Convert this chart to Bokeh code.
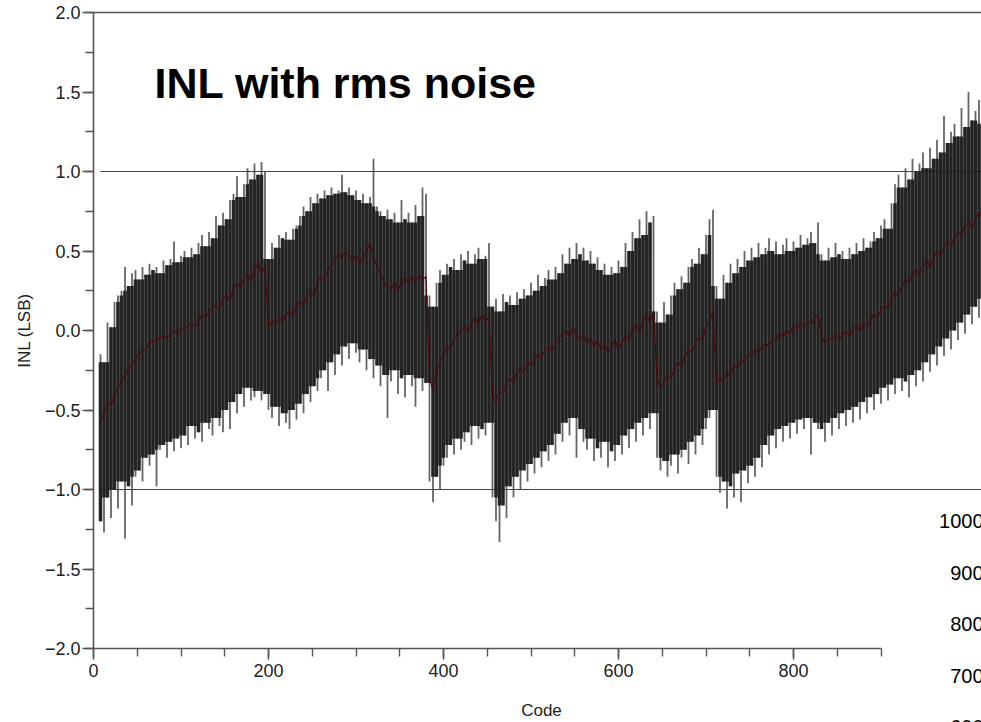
from bokeh.plotting import figure
from bokeh.models import Range1d, FixedTicker, Label, ColumnDataSource
from bokeh.embed import file_html
from bokeh.resources import INLINE

# ---------------- data (one bar every 4 codes) -------------
code_start = 8
code_step = 4

inl_mean = [
    # codes 8..196
    -0.58, -0.52, -0.45, -0.47, -0.40, -0.36, -0.31, -0.28, -0.24, -0.22, -0.18, -0.15,
    -0.12, -0.12, -0.08, -0.06, -0.07, -0.04, -0.03, -0.05, -0.02, 0.00, -0.02, 0.01,
    0.00, 0.03, 0.05, 0.02, 0.06, 0.10, 0.08, 0.12, 0.14, 0.16, 0.13, 0.20,
    0.22, 0.19, 0.26, 0.30, 0.27, 0.33, 0.36, 0.31, 0.38, 0.42, 0.36, 0.40,
    # codes 200..380
    0.02, 0.06, 0.04, 0.08, 0.05, 0.10, 0.12, 0.09, 0.15, 0.18, 0.16, 0.22,
    0.25, 0.22, 0.30, 0.34, 0.32, 0.38, 0.42, 0.45, 0.48, 0.46, 0.50, 0.47,
    0.44, 0.48, 0.42, 0.45, 0.50, 0.55, 0.46, 0.40, 0.36, 0.30, 0.28, 0.26,
    0.30, 0.25, 0.30, 0.33, 0.30, 0.34, 0.31, 0.35, 0.32, 0.34,
    # codes 384..452
    -0.30, -0.38, -0.25, -0.20, -0.15, -0.10, -0.12, -0.05, -0.02, 0.00, 0.03, -0.01,
    0.05, 0.08, 0.04, 0.10, 0.06, 0.08,
    # codes 456..640
    -0.42, -0.45, -0.38, -0.40, -0.33, -0.30, -0.32, -0.26, -0.24, -0.27, -0.20, -0.22,
    -0.18, -0.15, -0.17, -0.12, -0.10, -0.13, -0.08, -0.05, -0.02, 0.00, -0.04, 0.02,
    -0.03, -0.06, -0.02, -0.08, -0.05, -0.10, -0.06, -0.12, -0.08, -0.14, -0.10, -0.06,
    -0.12, -0.08, -0.03, -0.06, 0.00, 0.04, -0.02, 0.06, 0.10, 0.05, 0.12,
    # codes 644..708
    -0.30, -0.36, -0.32, -0.28, -0.30, -0.24, -0.20, -0.22, -0.16, -0.12, -0.14, -0.08,
    -0.04, -0.06, 0.02, 0.06, 0.12,
    # codes 712..828
    -0.34, -0.30, -0.32, -0.26, -0.28, -0.22, -0.24, -0.18, -0.20, -0.15, -0.16, -0.12,
    -0.14, -0.10, -0.08, -0.10, -0.05, -0.06, -0.02, -0.04, 0.00, -0.02, 0.03, 0.01,
    0.05, 0.02, 0.06, 0.04, 0.08, 0.10,
    # codes 832..1020
    -0.04, -0.08, -0.05, -0.06, -0.02, -0.06, -0.03, 0.00, -0.04, 0.01, 0.03, 0.00,
    0.05, 0.02, 0.07, 0.10, 0.08, 0.13, 0.16, 0.14, 0.20, 0.24, 0.22, 0.28,
    0.32, 0.30, 0.35, 0.38, 0.36, 0.40, 0.44, 0.40, 0.46, 0.50, 0.47, 0.52,
    0.56, 0.53, 0.58, 0.62, 0.60, 0.66, 0.68, 0.64, 0.70, 0.74, 0.72, 0.76,
]

inl_high = [
    # codes 8..196
    -0.15, -0.20, 0.05, 0.02, 0.18, 0.22, 0.25, 0.40, 0.28, 0.36, 0.38, 0.32,
    0.40, 0.35, 0.42, 0.38, 0.40, 0.36, 0.44, 0.41, 0.45, 0.56, 0.43, 0.47,
    0.50, 0.46, 0.52, 0.48, 0.55, 0.60, 0.53, 0.62, 0.58, 0.72, 0.66, 0.74,
    0.70, 0.82, 0.86, 0.97, 0.84, 0.92, 1.02, 0.95, 1.05, 0.98, 1.06, 1.00,
    # codes 200..380
    0.45, 0.55, 0.52, 0.60, 0.58, 0.62, 0.57, 0.64, 0.66, 0.72, 0.78, 0.75,
    0.84, 0.80, 0.86, 0.83, 0.88, 0.85, 0.90, 0.86, 0.88, 0.98, 0.87, 0.90,
    0.85, 0.88, 0.82, 0.86, 0.80, 0.84, 1.08, 0.78, 0.75, 0.72, 0.76, 0.70,
    0.74, 0.68, 0.82, 0.70, 0.74, 0.68, 0.79, 0.72, 0.90, 0.86,
    # codes 384..452
    0.22, 0.15, 0.30, 0.38, 0.35, 0.42, 0.40, 0.45, 0.38, 0.48, 0.44, 0.50,
    0.42, 0.48, 0.52, 0.45, 0.47, 0.55,
    # codes 456..640
    0.15, 0.20, 0.12, 0.23, 0.18, 0.22, 0.16, 0.24, 0.20, 0.26, 0.22, 0.30,
    0.25, 0.35, 0.28, 0.33, 0.38, 0.32, 0.40, 0.36, 0.48, 0.42, 0.52, 0.45,
    0.55, 0.48, 0.52, 0.44, 0.50, 0.42, 0.46, 0.38, 0.42, 0.35, 0.40, 0.36,
    0.44, 0.40, 0.55, 0.50, 0.62, 0.58, 0.70, 0.60, 0.75, 0.68, 0.72,
    # codes 644..708
    0.12, 0.05, 0.18, 0.10, 0.22, 0.30, 0.26, 0.34, 0.30, 0.40, 0.45, 0.42,
    0.52, 0.48, 0.60, 0.70, 0.76,
    # codes 712..828
    0.28, 0.20, 0.35, 0.30, 0.42, 0.36, 0.45, 0.40, 0.50, 0.44, 0.52, 0.46,
    0.55, 0.48, 0.52, 0.58, 0.50, 0.56, 0.48, 0.54, 0.58, 0.50, 0.56, 0.52,
    0.60, 0.54, 0.58, 0.62, 0.55, 0.68,
    # codes 832..1020
    0.48, 0.44, 0.52, 0.46, 0.55, 0.48, 0.50, 0.45, 0.52, 0.48, 0.55, 0.50,
    0.58, 0.52, 0.56, 0.62, 0.58, 0.66, 0.70, 0.64, 0.80, 0.92, 0.98, 0.90,
    1.02, 0.95, 1.08, 1.00, 1.05, 1.12, 1.02, 1.15, 1.08, 1.20, 1.12, 1.35,
    1.18, 1.25, 1.30, 1.22, 1.40, 1.28, 1.50, 1.32, 1.38, 1.45, 1.30, 1.42,
]

inl_low = [
    # codes 8..196
    -1.20, -1.27, -1.05, -1.18, -1.00, -1.12, -0.95, -1.31, -0.98, -1.10, -0.92, -0.88,
    -0.95, -0.80, -0.85, -0.78, -0.98, -0.75, -0.72, -0.80, -0.70, -0.76, -0.68, -0.74,
    -0.66, -0.72, -0.60, -0.68, -0.64, -0.70, -0.58, -0.62, -0.66, -0.55, -0.60, -0.64,
    -0.50, -0.62, -0.45, -0.52, -0.40, -0.48, -0.36, -0.44, -0.42, -0.38, -0.44, -0.40,
    # codes 200..380
    -0.50, -0.55, -0.48, -0.60, -0.52, -0.58, -0.62, -0.50, -0.56, -0.46, -0.52, -0.40,
    -0.45, -0.35, -0.38, -0.30, -0.25, -0.38, -0.20, -0.28, -0.15, -0.22, -0.10, -0.18,
    -0.08, -0.14, -0.20, -0.12, -0.25, -0.18, -0.30, -0.22, -0.35, -0.28, -0.55, -0.32,
    -0.25, -0.40, -0.30, -0.42, -0.28, -0.35, -0.48, -0.30, -0.38, -0.33,
    # codes 384..452
    -0.95, -1.08, -0.92, -1.00, -0.85, -0.80, -0.72, -0.78, -0.68, -0.75, -0.70, -0.64,
    -0.72, -0.60, -0.68, -0.62, -0.66, -0.58,
    # codes 456..640
    -1.05, -1.20, -1.33, -1.10, -1.18, -0.98, -1.05, -0.92, -1.00, -0.88, -0.95, -0.84,
    -0.90, -0.80, -0.86, -0.76, -0.82, -0.72, -0.78, -0.65, -0.70, -0.58, -0.66, -0.55,
    -0.80, -0.62, -0.70, -0.75, -0.68, -0.82, -0.74, -0.80, -0.70, -0.86, -0.76, -0.82,
    -0.72, -0.78, -0.66, -0.74, -0.62, -0.70, -0.58, -0.66, -0.55, -0.62, -0.52,
    # codes 644..708
    -0.80, -0.88, -0.82, -0.92, -0.85, -0.78, -0.90, -0.80, -0.75, -0.84, -0.70, -0.78,
    -0.66, -0.72, -0.62, -0.55, -0.50,
    # codes 712..828
    -0.92, -1.02, -0.95, -1.12, -0.98, -1.05, -0.90, -1.08, -0.88, -0.96, -0.85, -0.92,
    -0.80, -0.86, -0.72, -0.78, -0.66, -0.74, -0.62, -0.70, -0.60, -0.68, -0.58, -0.65,
    -0.56, -0.62, -0.55, -0.78, -0.58, -0.62,
    # codes 832..1020
    -0.62, -0.70, -0.58, -0.66, -0.55, -0.62, -0.52, -0.60, -0.50, -0.58, -0.48, -0.56,
    -0.45, -0.52, -0.42, -0.50, -0.40, -0.46, -0.36, -0.44, -0.34, -0.40, -0.30, -0.38,
    -0.32, -0.42, -0.28, -0.35, -0.25, -0.32, -0.20, -0.26, -0.15, -0.22, -0.10, -0.16,
    -0.05, -0.12, 0.00, -0.06, 0.05, -0.02, 0.10, 0.04, 0.15, 0.08, 0.20, 0.12,
]

x_major_ticks = [0, 200, 400, 600, 800]
y_major_ticks = [-2.0, -1.5, -1.0, -0.5, 0.0, 0.5, 1.0, 1.5, 2.0]
y_tick_text = ["\u22122.0", "\u22121.5", "\u22121.0", "\u22120.5", "0.0", "0.5", "1.0", "1.5", "2.0"]
limit_lines = [-1.0, 1.0]
top_line = [2.0]
side_labels = ["1000", "900", "800", "700", "600"]

title_text = "INL with rms noise"
x_title = "Code"
y_title = "INL (LSB)"

# ---------------- figure -------------
n = min(len(inl_mean), len(inl_high), len(inl_low))
codes = [code_start + code_step * i for i in range(n)]
# inner body of the noise band: the part shared with both neighbours
body_hi = [min(inl_high[max(i - 1, 0)], inl_high[i], inl_high[min(i + 1, n - 1)]) for i in range(n)]
body_lo = [max(inl_low[max(i - 1, 0)], inl_low[i], inl_low[min(i + 1, n - 1)]) for i in range(n)]
src = ColumnDataSource(dict(code=codes, mean=inl_mean[:n], hi=inl_high[:n], lo=inl_low[:n],
                            bhi=body_hi, blo=body_lo))

W, H = 981, 722
AXIS_X_PX, AXIS_Y_PX = 93, 648   # pixel column of code 0, pixel row of INL = -2.0
TOP_PX = 12                      # pixel row of INL = +2.0
px_per_code = 0.875
px_per_lsb = (AXIS_Y_PX - TOP_PX) / 4.0

x_rng = Range1d(-AXIS_X_PX / px_per_code, (W - AXIS_X_PX) / px_per_code)
y_rng = Range1d(-2.0 - (H - AXIS_Y_PX) / px_per_lsb, 2.0 + TOP_PX / px_per_lsb)

p = figure(width=W, height=H, output_backend="svg", toolbar_location=None,
           x_range=x_rng, y_range=y_rng,
           min_border_left=0, min_border_right=0, min_border_top=0, min_border_bottom=0)
p.outline_line_color = None
p.background_fill_color = "white"
p.border_fill_color = "white"
p.xgrid.visible = False
p.ygrid.visible = False

font = "Liberation Sans"
xa = p.xaxis[0]
xa.ticker = FixedTicker(ticks=x_major_ticks, minor_ticks=list(range(0, 901, 50)))
xa.bounds = (0, 900)
xa.fixed_location = -2.0
ya = p.yaxis[0]
ya.ticker = FixedTicker(ticks=y_major_ticks, minor_ticks=[v / 4 for v in range(-8, 9)])
ya.bounds = (-2.0, 2.0)
ya.fixed_location = 0
ya.major_label_overrides = {v: t for v, t in zip(y_major_ticks, y_tick_text)}
for ax in (xa, ya):
    ax.axis_line_color = "#555555"
    ax.axis_line_width = 1.6
    ax.major_tick_line_color = "#555555"
    ax.major_tick_line_width = 1.6
    ax.minor_tick_line_color = "#555555"
    ax.minor_tick_line_width = 1.4
    ax.major_tick_in = 0
    ax.minor_tick_in = 0
    ax.major_tick_out = 11
    ax.minor_tick_out = 8
    ax.major_label_text_font = font
    ax.major_label_text_font_size = "18px"
    ax.major_label_text_color = "#222222"
xa.major_label_standoff = 4
ya.major_label_standoff = 2
ya.axis_label = y_title
ya.axis_label_text_font = font
ya.axis_label_text_font_size = "17px"
ya.axis_label_text_font_style = "normal"
ya.axis_label_text_color = "#222222"
ya.axis_label_standoff = 8

# limit lines (start where the data starts) and the top frame line
p.ray(x=[code_start] * len(limit_lines), y=limit_lines, length=0, angle=0,
      line_color="#444444", line_width=1.2)
p.ray(x=[0] * len(top_line), y=top_line, length=0, angle=0,
      line_color="#555555", line_width=1.4)

# noise bars: thin grey needles over the full range, dark body in the shared part
p.segment(x0="code", y0="lo", x1="code", y1="hi", source=src,
          line_color="#4a4a4a", line_alpha=0.85, line_width=1.8)
p.segment(x0="code", y0="blo", x1="code", y1="bhi", source=src,
          line_color="#1e1e1e", line_alpha=0.95, line_width=3.6)
p.line(x="code", y="mean", source=src, line_color="#4e0606", line_width=1.2, line_alpha=0.9)


def y_of_px(py):
    return 2.0 - (py - TOP_PX) / px_per_lsb


def x_of_px(px):
    return (px - AXIS_X_PX) / px_per_code


p.add_layout(Label(x=x_of_px(154), y=y_of_px(82), text=title_text,
                   text_font=font, text_font_size="43px", text_font_style="bold",
                   text_color="black", text_baseline="alphabetic", text_align="left"))
p.add_layout(Label(x=512, y=y_of_px(710), text=x_title,
                   text_font=font, text_font_size="17px", text_color="#222222",
                   text_baseline="middle", text_align="center"))

# partial tick labels of the neighbouring chart at the right edge
for i, t in enumerate(side_labels):
    p.add_layout(Label(x=x_of_px(983), y=y_of_px(520.5 + 51.5 * i), text=t,
                       text_font=font, text_font_size="20px", text_color="black",
                       text_baseline="middle", text_align="right"))

open("out.html", "w").write(file_html(p, INLINE))
